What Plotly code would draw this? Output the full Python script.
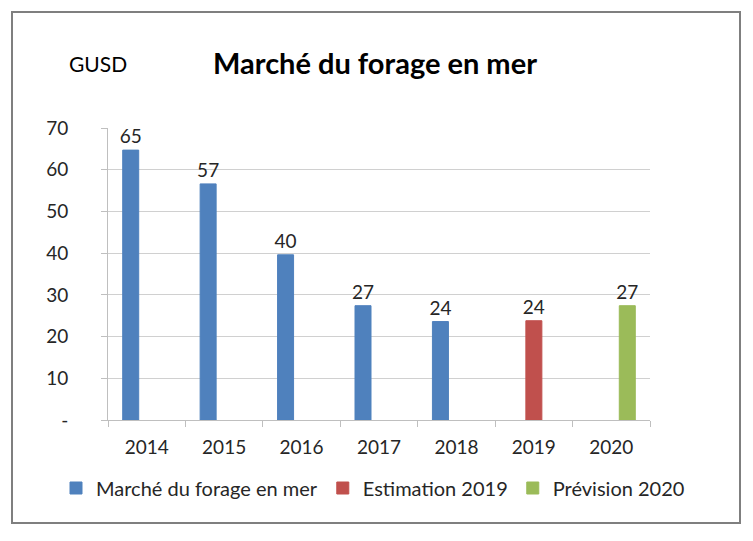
import plotly.graph_objects as go

years = ["2014", "2015", "2016", "2017", "2018", "2019", "2020"]
marche = [64.7, 56.6, 39.6, 27.4, 23.6, None, None]
estimation = [None, None, None, None, None, 23.8, None]
prevision = [None, None, None, None, None, None, 27.4]
series_names = ["Marché du forage en mer", "Estimation 2019", "Prévision 2020"]
colors = ["#4F81BD", "#C0504D", "#9BBB59"]
y_tickvals = [0, 10, 20, 30, 40, 50, 60, 70]
y_ticktext = ["-", "10", "20", "30", "40", "50", "60", "70"]

FONT = "Lato"
TXT = "#262626"

fig = go.Figure()
for name, vals, col in zip(series_names, [marche, estimation, prevision], colors):
    fig.add_trace(go.Bar(
        x=years, y=vals, name=name,
        marker=dict(color=col, line=dict(color=col, width=1)),
        texttemplate="%{y:.0f}", textposition="outside", constraintext="none",
        textfont=dict(family=FONT, size=19, color=TXT),
        cliponaxis=False,
    ))

fig.update_layout(
    width=753, height=541,
    margin=dict(l=108, r=103, t=128, b=121, autoexpand=False),
    paper_bgcolor="white", plot_bgcolor="white",
    barmode="group", bargap=0.38, bargroupgap=0,
    showlegend=True,
    legend=dict(orientation="h", x=(56 - 108) / 542, xanchor="left",
                y=(420 - 488) / 292, yanchor="middle",
                font=dict(family=FONT, size=20, color=TXT), traceorder="normal",
                itemwidth=30, tracegroupgap=0),
    xaxis=dict(type="category", showgrid=False, showline=True, linecolor="#bfbfbf",
               linewidth=1, ticks="outside", tickson="boundaries", ticklen=6,
               tickcolor="#bfbfbf", ticklabelstandoff=10,
               tickfont=dict(family=FONT, size=19, color=TXT)),
    yaxis=dict(range=[0, 70], tickvals=y_tickvals, ticktext=y_ticktext,
               showgrid=True, gridcolor="#d0d0d0", gridwidth=1,
               showline=True, linecolor="#bfbfbf", linewidth=1,
               ticks="outside", ticklen=6, tickcolor="#bfbfbf",
               zeroline=False, ticklabelstandoff=29,
               tickfont=dict(family=FONT, size=19, color=TXT)),
    annotations=[
        dict(text="<b>Marché du forage en mer</b>", xref="paper", yref="paper",
             x=(375 - 108) / 542, y=(420 - 62) / 292, xanchor="center", yanchor="middle",
             showarrow=False, font=dict(family=FONT, size=29, color="black")),
        dict(text="GUSD", xref="paper", yref="paper",
             x=(98 - 108) / 542, y=(420 - 63) / 292, xanchor="center", yanchor="middle",
             showarrow=False, font=dict(family=FONT, size=21, color="black")),
    ],
    shapes=[dict(type="rect", xref="paper", yref="paper",
                 x0=(12 - 108) / 542, x1=(740 - 108) / 542,
                 y0=(420 - 523) / 292, y1=(420 - 12) / 292,
                 line=dict(color="#7f7f7f", width=2), fillcolor="rgba(0,0,0,0)")],
)

fig.write_html("out.html", config={"displayModeBar": False},
               post_script="document.body.style.margin='0';")
